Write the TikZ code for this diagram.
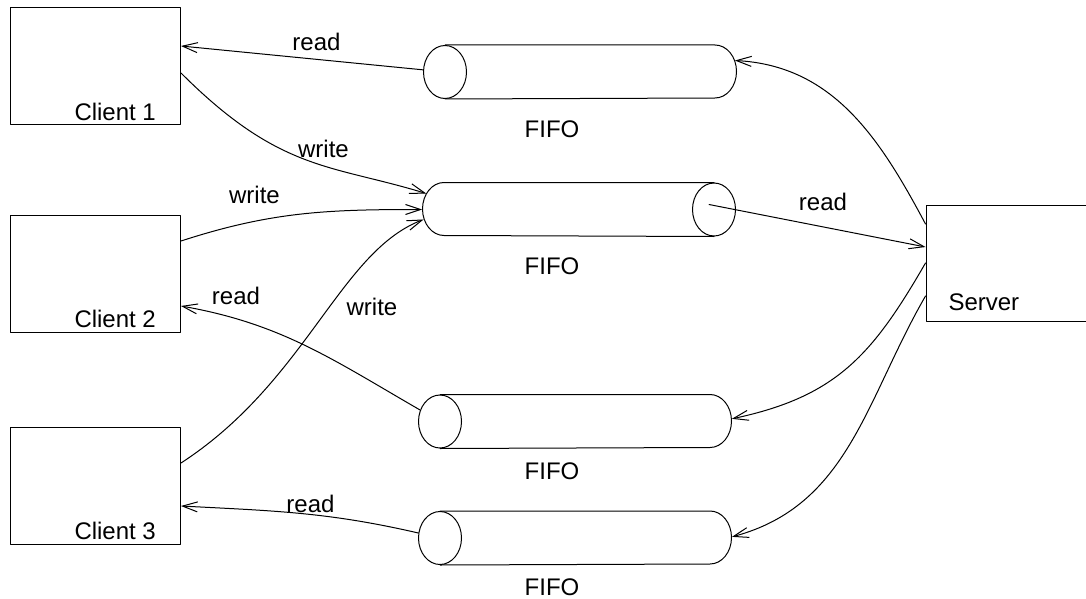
\documentclass[tikz,border=0pt]{standalone}
\usepackage{fontspec}
\setmainfont{Liberation Sans}
\usetikzlibrary{arrows.meta,shapes.geometric,calc}

\begin{document}
\begin{tikzpicture}[line cap=round,line join=round,>={Straight Barb[length=7.5pt,width=5pt]},x=0.5pt,y=0.5pt,
		every path/.style={line width=0.5pt},
		tag/.style={font=\fontsize{12}{14}\selectfont,inner sep=0pt},
		client/.style={draw,minimum width=85pt,minimum height=58.5pt,inner sep=0pt},
		pipe end/.style={ellipse,draw,minimum width=21.5pt,minimum height=26.5pt,inner sep=0pt},
		pipe cap/.style={ellipse,minimum width=21.5pt,minimum height=26.5pt,inner sep=0pt}]
		\useasboundingbox (0,0) rectangle (1086,-599);
		% clients
		\node[client] (c1) at (95.5,-66.5) {};
		\node[client] (c2) at (95.5,-273.5) {};
		\node[client] (c3) at (95.5,-485.5) {};
		\node[tag,anchor=base west] (c1 name) at (74,-120) {Client 1};
		\node[tag,anchor=base west] (c2 name) at (74,-327) {Client 2};
		\node[tag,anchor=base west] (c3 name) at (74,-539) {Client 3};
		% server
		\node[draw,minimum width=90pt,minimum height=58pt,inner sep=0pt] (server) at (1016,-263) {};
		\node[tag,anchor=base west] (server name) at (948,-310) {Server};
		% fifos
		\foreach \n/\fx/\fy/\cx/\sweep in {1/445/72/715/-180, 2/714/209.5/444/180, 3/440/421.5/710/-180, 4/440/538/710/-180}{
			\node[pipe end] (fifo\n) at (\fx,-\fy) {};
			\node[pipe cap] (cap\n) at (\cx,-\fy) {};
			\draw (fifo\n.north) -- (cap\n.north) arc[start angle=90,delta angle=\sweep,x radius=10.75pt,y radius=13.25pt] -- (fifo\n.south);
		}
		\node[tag,anchor=base] (fifo1 name) at (552,-137) {FIFO};
		\node[tag,anchor=base] (fifo2 name) at (552,-274) {FIFO};
		\node[tag,anchor=base] (fifo3 name) at (552,-479) {FIFO};
		\node[tag,anchor=base] (fifo4 name) at (552,-595) {FIFO};
		% client side
		\draw[->] (fifo1) -- ($(c1.east)+(0,20.5)$);
		\draw[->] ($(c1.east)+(0,-6.5)$) .. controls +(-45:140) and +(163:100) .. (cap2.138);
		\draw[->] ($(c2.east)+(0,32.5)$) to[out=18,in=180] (cap2.west);
		\draw[->] ($(c3.east)+(0,22.5)$) .. controls +(33:150) and +(201:90) .. (cap2.206);
		\draw[->] (fifo3) to[out=150,in=-10] ($(c2.east)+(0,-32.5)$);
		\draw[->] (fifo4) to[out=167,in=-3] ($(c3.east)+(0,-20.5)$);
		\node[tag,anchor=base] (l1) at (316.5,-51) {read};
		\node[tag,anchor=base] (l2) at (323.5,-157) {write};
		\node[tag,anchor=base] (l3) at (254.5,-203) {write};
		\node[tag,anchor=base] (l4) at (372,-315) {write};
		\node[tag,anchor=base] (l5) at (236,-304) {read};
		\node[tag,anchor=base] (l6) at (310.5,-512) {read};
		% server side
		\draw[->] ($(fifo2)+(-5,5)$) -- ($(server.west)+(0,16)$);
		\draw[->] ($(server.west)+(0,39)$) to[out=118,in=-3] (cap1.30);
		\draw[->] (server.west) to[out=240,in=12,looseness=1.1] (cap3.7);
		\draw[->] ($(server.west)+(0,-33)$) to[out=240,in=15] (cap4.3);
		\node[tag,anchor=base] (l7) at (823,-210) {read};
\end{tikzpicture}
\end{document}
